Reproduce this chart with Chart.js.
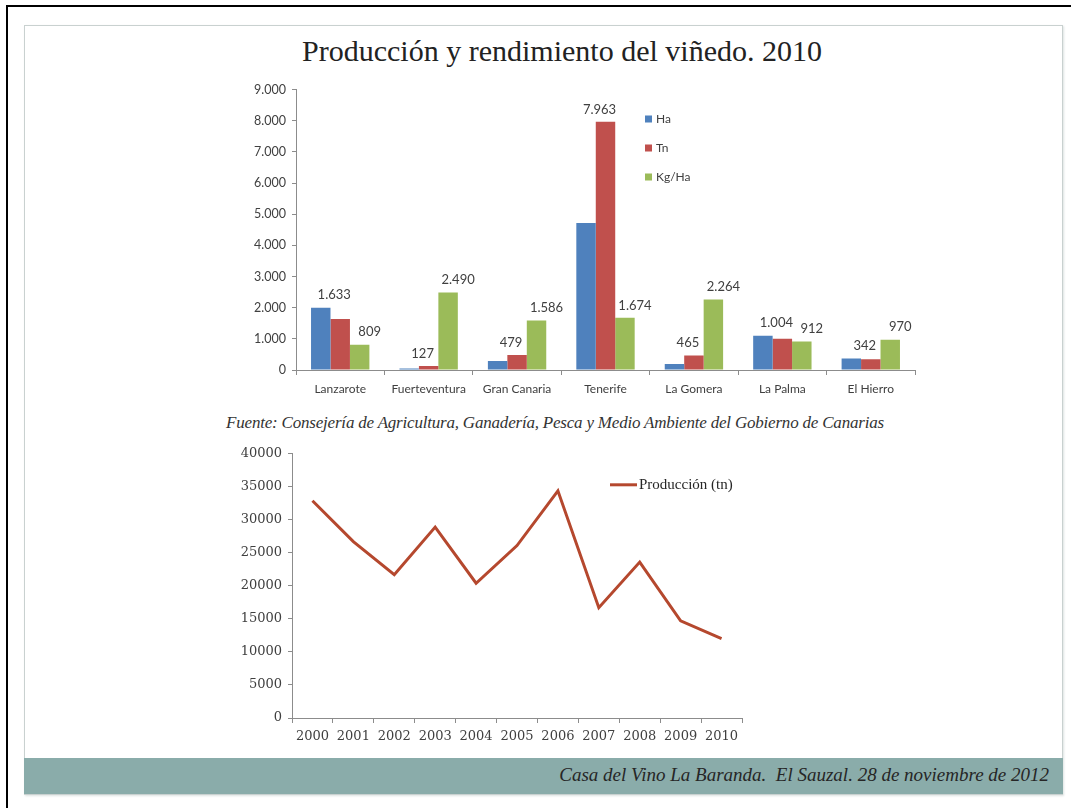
<!DOCTYPE html>
<html>
<head>
<meta charset="utf-8">
<script src="https://cdn.jsdelivr.net/npm/chart.js@4/dist/chart.umd.min.js"></script>
<style>
  html, body { margin: 0; padding: 0; background: #fff; }
  body { width: 1071px; height: 808px; position: relative; overflow: hidden; }
  #edgeTop { position: absolute; left: 6px; top: 5px; width: 1065px; height: 2px; background: #000; }
  #edgeLeft { position: absolute; left: 6px; top: 5px; width: 2px; height: 803px; background: #000; }
  #slide { position: absolute; left: 24px; top: 25px; width: 1037px; height: 768px; border: 1px solid #c9d1d0; box-shadow: 1px 1px 2px #dde3e2; }
  #title { position: absolute; left: 0; width: 1124px; top: 34px; text-align: center; font-family: "Liberation Serif", serif; font-size: 30px; color: #222; }
  #source { position: absolute; left: 0; width: 1110px; top: 413px; text-align: center; font-family: "Liberation Serif", serif; font-style: italic; font-size: 17px; color: #333; letter-spacing: -0.2px; }
  #footer { position: absolute; left: 24px; top: 758px; width: 1039px; height: 36px; background: #8aacaa; }
  #footer span { position: absolute; right: 14px; top: 6px; font-family: "Liberation Serif", serif; font-style: italic; font-size: 19px; color: #262626; }
  #barBox { position: absolute; left: 246px; top: 76px; width: 674px; height: 322px; }
  #lineBox { position: absolute; left: 232px; top: 440px; width: 520px; height: 310px; }
</style>
</head>
<body>
<div id="edgeTop"></div>
<div id="edgeLeft"></div>
<div id="slide"></div>
<div id="title">Producción y rendimiento del viñedo. 2010</div>
<div id="barBox"><canvas id="bars"></canvas></div>
<div id="source">Fuente: Consejería de Agricultura, Ganadería, Pesca y Medio Ambiente del Gobierno de Canarias</div>
<div id="lineBox"><canvas id="line"></canvas></div>
<div id="footer"><span>Casa del Vino La Baranda.&nbsp; El Sauzal. 28 de noviembre de 2012</span></div>
<script>
// bar chart data (2010, by island)
const islands = ['Lanzarote', 'Fuerteventura', 'Gran Canaria', 'Tenerife', 'La Gomera', 'La Palma', 'El Hierro'];
const ha = [2000, 50, 290, 4720, 190, 1100, 370];
const tn = [1633, 127, 479, 7963, 465, 1004, 342];
const kgHa = [809, 2490, 1586, 1674, 2264, 912, 970];

// line chart data
const years = ['2000', '2001', '2002', '2003', '2004', '2005', '2006', '2007', '2008', '2009', '2010'];
const produccion = [32900, 26700, 21700, 28900, 20400, 26100, 34400, 16700, 23600, 14700, 12000];

const fmt = n => String(n).replace(/\B(?=(\d{3})+(?!\d))/g, '.');

// draws the legend inside the plot area
const insideLegend = {
  id: 'insideLegend',
  afterDraw(chart, args, opts) {
    const ctx = chart.ctx;
    const area = chart.chartArea;
    ctx.save();
    ctx.font = opts.font;
    ctx.fillStyle = opts.color;
    ctx.textBaseline = 'middle';
    chart.data.datasets.forEach((ds, i) => {
      const x = area.left + opts.x;
      const y = area.top + opts.y + i * opts.dy;
      if (opts.kind === 'line') {
        ctx.strokeStyle = ds.borderColor;
        ctx.lineWidth = ds.borderWidth;
        ctx.beginPath();
        ctx.moveTo(x, y);
        ctx.lineTo(x + 27, y);
        ctx.stroke();
        ctx.fillStyle = opts.color;
        ctx.fillText(ds.label, x + 29, y);
      } else {
        ctx.fillStyle = ds.backgroundColor;
        ctx.fillRect(x, y - 4, 7, 7);
        ctx.fillStyle = opts.color;
        ctx.fillText(ds.label, x + 11, y);
      }
    });
    ctx.restore();
  }
};

// value labels over the Tn and Kg/Ha bars, lifted above any bar they would cover
const barLabels = {
  id: 'barLabels',
  afterDatasetsDraw(chart, args, opts) {
    const ctx = chart.ctx;
    ctx.save();
    ctx.font = opts.font;
    ctx.fillStyle = opts.color;
    ctx.textAlign = 'center';
    ctx.textBaseline = 'bottom';
    opts.datasets.forEach((di, k) => {
      const meta = chart.getDatasetMeta(di);
      meta.data.forEach((bar, j) => {
        const text = fmt(chart.data.datasets[di].data[j]);
        const cx = bar.x + opts.shift[k];
        const w = ctx.measureText(text).width;
        let top = bar.y;
        chart.data.datasets.forEach((d, m) => {
          const other = chart.getDatasetMeta(m).data[j];
          const half = other.width / 2;
          if (other.x + half > cx - w / 2 && other.x - half < cx + w / 2) top = Math.min(top, other.y);
        });
        ctx.fillText(text, cx, top - 6);
      });
    });
    ctx.restore();
  }
};

const axisGray = '#8c8c8c';
const sans = 'Lato, "Open Sans", sans-serif';
const serif = '"DejaVu Serif", serif';

new Chart(document.getElementById('bars'), {
  type: 'bar',
  data: {
    labels: islands,
    datasets: [
      { label: 'Ha', data: ha, backgroundColor: '#4f81bd' },
      { label: 'Tn', data: tn, backgroundColor: '#c0504d' },
      { label: 'Kg/Ha', data: kgHa, backgroundColor: '#9bbb59' }
    ]
  },
  options: {
    responsive: true,
    maintainAspectRatio: false,
    animation: false,
    layout: { padding: { top: 4, right: 5, bottom: 0, left: 0 } },
    datasets: { bar: { categoryPercentage: 0.66, barPercentage: 1.0 } },
    scales: {
      x: {
        offset: true,
        grid: { display: true, offset: true, drawOnChartArea: false, color: axisGray, tickLength: 5 },
        border: { color: axisGray },
        ticks: { color: '#404040', font: { family: sans, size: 12 }, padding: 7, maxRotation: 0, autoSkip: false },
        afterFit: s => { s.height = 28; }
      },
      y: {
        min: 0,
        max: 9000,
        grid: { display: true, drawOnChartArea: false, color: axisGray, tickLength: 4 },
        border: { color: axisGray },
        ticks: { stepSize: 1000, color: '#404040', font: { family: sans, size: 12.5 }, padding: 6, callback: v => fmt(v) },
        afterFit: s => { s.width = 50; }
      }
    },
    plugins: {
      legend: { display: false },
      tooltip: { enabled: false },
      insideLegend: { x: 349, y: 30, dy: 29, font: '12px ' + sans, color: '#404040', kind: 'box' },
      barLabels: { datasets: [1, 2], shift: [-6, 10], font: '13px ' + sans, color: '#404040' }
    }
  },
  plugins: [insideLegend, barLabels]
});

new Chart(document.getElementById('line'), {
  type: 'line',
  data: {
    labels: years,
    datasets: [
      { label: 'Producción (tn)', data: produccion, borderColor: '#b5482e', borderWidth: 3, pointRadius: 0, tension: 0, fill: false }
    ]
  },
  options: {
    responsive: true,
    maintainAspectRatio: false,
    animation: false,
    layout: { padding: { top: 11, right: 10, bottom: 0, left: 0 } },
    scales: {
      x: {
        offset: true,
        grid: { display: true, offset: true, drawOnChartArea: false, color: axisGray, tickLength: 5 },
        border: { color: axisGray },
        ticks: { color: '#404040', font: { family: serif, size: 13 }, padding: 6, maxRotation: 0, autoSkip: false },
        afterFit: s => { s.height = 32; }
      },
      y: {
        min: 0,
        max: 40000,
        grid: { display: true, drawOnChartArea: false, color: axisGray, tickLength: 4 },
        border: { color: axisGray },
        ticks: { stepSize: 5000, color: '#404040', font: { family: serif, size: 13 }, padding: 6, callback: v => String(v) },
        afterFit: s => { s.width = 60; }
      }
    },
    plugins: {
      legend: { display: false },
      tooltip: { enabled: false },
      insideLegend: { x: 318, y: 31, dy: 0, font: '15px "Liberation Serif", serif', color: '#262626', kind: 'line' }
    }
  },
  plugins: [insideLegend]
});
</script>
</body>
</html>
